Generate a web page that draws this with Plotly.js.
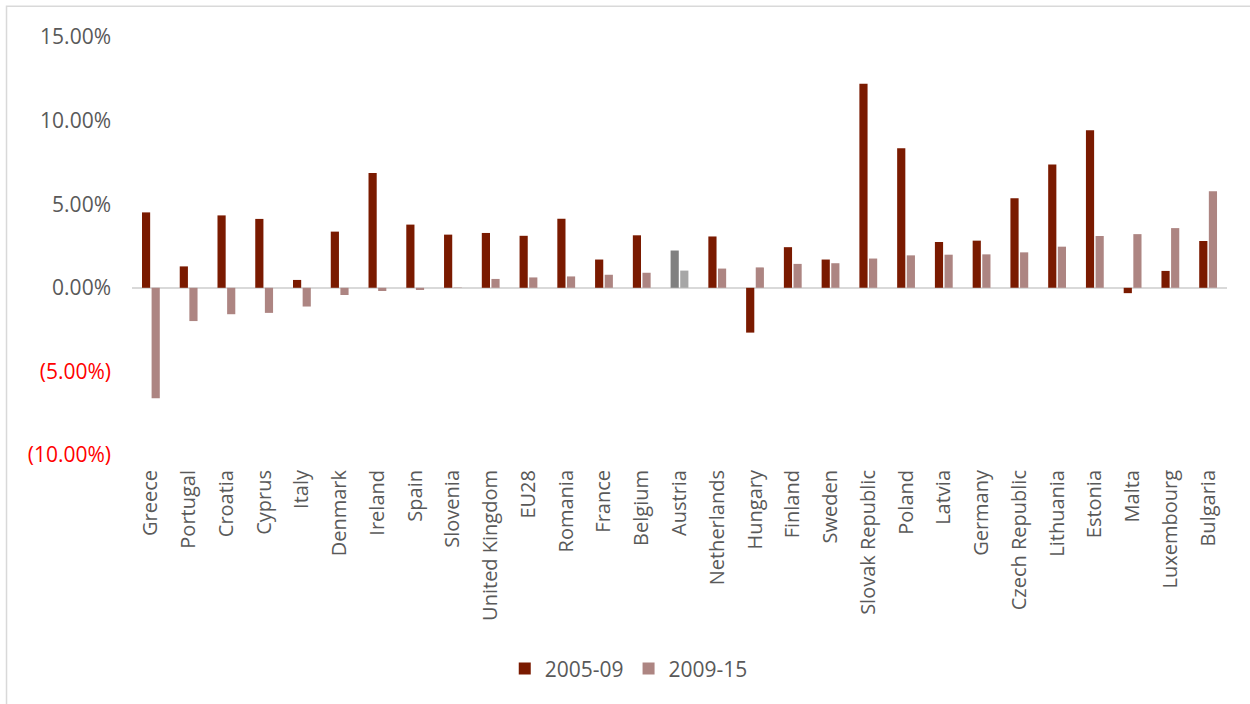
<!DOCTYPE html>
<html>
<head>
<meta charset="utf-8">
<script src="https://cdn.plot.ly/plotly-3.0.1.min.js"></script>
<style>
  html, body { margin: 0; padding: 0; background: #ffffff; }
  #chart { width: 1250px; height: 704px; }
</style>
</head>
<body>
<div id="chart"></div>
<script>
// Annual growth by country, two periods (fractions, shown as %)
const countries = [
  "Greece", "Portugal", "Croatia", "Cyprus", "Italy", "Denmark", "Ireland",
  "Spain", "Slovenia", "United Kingdom", "EU28", "Romania", "France", "Belgium",
  "Austria", "Netherlands", "Hungary", "Finland", "Sweden", "Slovak Republic",
  "Poland", "Latvia", "Germany", "Czech Republic", "Lithuania", "Estonia",
  "Malta", "Luxembourg", "Bulgaria"
];
const growth2005_09 = [
  0.0451, 0.0128, 0.0433, 0.0412, 0.0047, 0.0336, 0.0687,
  0.0378, 0.0318, 0.0328, 0.0311, 0.0413, 0.0169, 0.0314,
  0.0223, 0.0307, -0.0268, 0.0243, 0.0169, 0.1220,
  0.0835, 0.0274, 0.0282, 0.0535, 0.0738, 0.0943,
  -0.0032, 0.0101, 0.0280
];
const growth2009_15 = [
  -0.0660, -0.0199, -0.0158, -0.0150, -0.0112, -0.0043, -0.0019,
  -0.0013, 0.0002, 0.0053, 0.0062, 0.0068, 0.0078, 0.0090,
  0.0103, 0.0115, 0.0122, 0.0143, 0.0147, 0.0175,
  0.0194, 0.0198, 0.0200, 0.0212, 0.0246, 0.0310,
  0.0321, 0.0357, 0.0577
];
const seriesNames = ["2005-09", "2009-15"];
const yTickVals = [-0.10, -0.05, 0, 0.05, 0.10, 0.15];
const yTickText = ["(10.00%)", "(5.00%)", "0.00%", "5.00%", "10.00%", "15.00%"];

const highlighted = "Austria";
const colA = "#7a1a00", colB = "#ad8582";
const greyA = "#808080", greyB = "#a6a6a6";

const traceA = {
  type: "bar",
  name: seriesNames[0],
  x: countries,
  y: growth2005_09,
  marker: { color: countries.map(c => c === highlighted ? greyA : colA) },
  hoverinfo: "skip"
};
const traceB = {
  type: "bar",
  name: seriesNames[1],
  x: countries,
  y: growth2009_15,
  marker: { color: countries.map(c => c === highlighted ? greyB : colB) },
  hoverinfo: "skip"
};

// Negative labels in red, accounting-style brackets
const styledTicks = yTickText.map((t, i) =>
  yTickVals[i] < 0 ? '<span style="color:#ff0000">' + t + '</span>' : t);

const layout = {
  width: 1250,
  height: 704,
  paper_bgcolor: "#ffffff",
  plot_bgcolor: "#ffffff",
  font: { family: "Open Sans, sans-serif", size: 20, color: "#595959" },
  margin: { l: 132, r: 23, t: 37, b: 249 },
  barmode: "group",
  bargap: 0.49,
  bargroupgap: 0.15,
  showlegend: true,
  legend: {
    orientation: "h",
    xref: "container", yref: "container",
    x: 0.503, xanchor: "center",
    y: 0.05, yanchor: "middle",
    font: { size: 21, color: "#595959" },
    itemwidth: 30,
    traceorder: "normal"
  },
  xaxis: {
    type: "category",
    tickangle: -90,
    showgrid: false,
    showline: false,
    zeroline: false,
    ticks: "",
    ticklabelstandoff: 10,
    tickfont: { size: 20, color: "#595959" },
    fixedrange: true
  },
  yaxis: {
    range: [-0.10, 0.15],
    tickvals: yTickVals,
    ticktext: styledTicks,
    showgrid: false,
    showline: false,
    zeroline: true,
    zerolinecolor: "#d9d9d9",
    zerolinewidth: 2,
    ticks: "",
    ticklabelstandoff: 20,
    tickfont: { size: 21, color: "#595959" },
    fixedrange: true
  },
  shapes: [{
    type: "rect",
    xref: "paper", yref: "paper",
    x0: -0.1146, x1: 1.2,
    y0: -0.8, y1: 1.0735,
    line: { color: "#d9d9d9", width: 1.5 },
    fillcolor: "rgba(0,0,0,0)",
    layer: "below"
  }]
};

Plotly.newPlot("chart", [traceA, traceB], layout, { displayModeBar: false, staticPlot: true });
</script>
</body>
</html>
